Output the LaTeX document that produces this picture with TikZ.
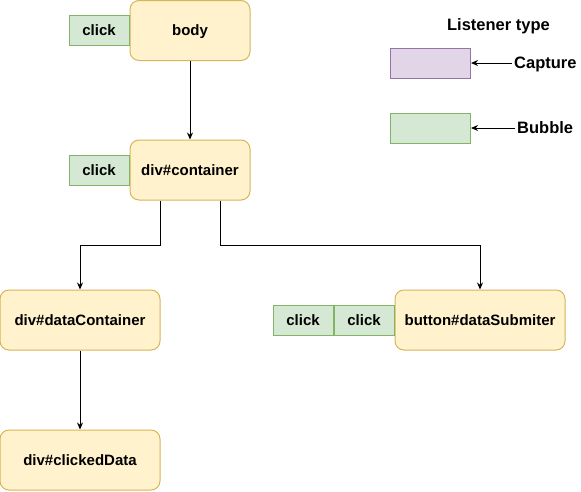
\documentclass[tikz,border=0pt]{standalone}
\usepackage{fontspec}
\setmainfont{Liberation Sans}
\usetikzlibrary{arrows.meta,positioning}
\definecolor{yfill}{HTML}{FFF2CC}
\definecolor{ydraw}{HTML}{D6B656}
\definecolor{gfill}{HTML}{D5E8D4}
\definecolor{gdraw}{HTML}{82B366}
\definecolor{pfill}{HTML}{E1D5E7}
\definecolor{pdraw}{HTML}{9673A6}
\tikzset{
  elem/.style={draw=ydraw, fill=yfill, rounded corners=9pt, line width=1pt,
    minimum height=60pt, inner sep=0pt, text height=13.6pt, text depth=3.2pt,
    font=\fontsize{15}{18}\selectfont\bfseries},
  clickbox/.style={draw=gdraw, fill=gfill, line width=1pt, minimum width=60pt,
    minimum height=30pt, inner sep=0pt, text height=13.6pt, text depth=3.2pt,
    font=\fontsize{15}{18}\selectfont\bfseries},
  legbox/.style={line width=1pt, minimum width=80pt, minimum height=30pt, inner sep=0pt},
  legtext/.style={font=\fontsize{16.5}{20}\selectfont\bfseries, inner sep=2pt,
    text height=14.9pt, text depth=3.5pt},
  conn/.style={line width=1pt, -{Stealth[length=7pt,width=6pt]}},
}
\begin{document}
\begin{tikzpicture}[x=1pt,y=-1pt]
\useasboundingbox (0,0) rectangle (581,491);
% main elements
\node[elem, minimum width=120pt] (body) at (190,30.5) {body};
\node[elem, minimum width=120pt] (cont) at (190,170) {div\#container};
\node[elem, minimum width=160pt] (dc) at (80,320) {div\#dataContainer};
\node[elem, minimum width=160pt] (cd) at (80,460) {div\#clickedData};
\node[elem, minimum width=170pt] (btn) at (480,320) {button\#dataSubmiter};
% listeners
\node[clickbox, anchor=east] (c1) at (body.west) {click};
\node[clickbox, anchor=east] (c2) at (cont.west) {click};
\node[clickbox, anchor=east] (c3) at (btn.west) {click};
\node[clickbox, anchor=east] (c4) at (c3.west) {click};
% connectors
\draw[conn] (body.south) -- (cont.north);
\draw[conn] (cont.south -| dc.east) -- ++(0,45) -| (dc.north);
\draw[conn] ([xshift=30pt]cont.south) -- ++(0,45) -| (btn.north);
\draw[conn] (dc.south) -- (cd.north);
% legend
\node[legtext] (lt) at (498.5,25) {Listener type};
\node[legbox, draw=pdraw, fill=pfill] (cap) at (430.5,63) {};
\node[legbox, draw=gdraw, fill=gfill] (bub) at (430.5,128) {};
\node[legtext, anchor=west] (capt) at (512,63) {Capture};
\node[legtext, anchor=west] (bubt) at (515,128) {Bubble};
\draw[conn] (capt.west) -- (cap.east);
\draw[conn] (bubt.west) -- (bub.east);
\end{tikzpicture}
\end{document}
